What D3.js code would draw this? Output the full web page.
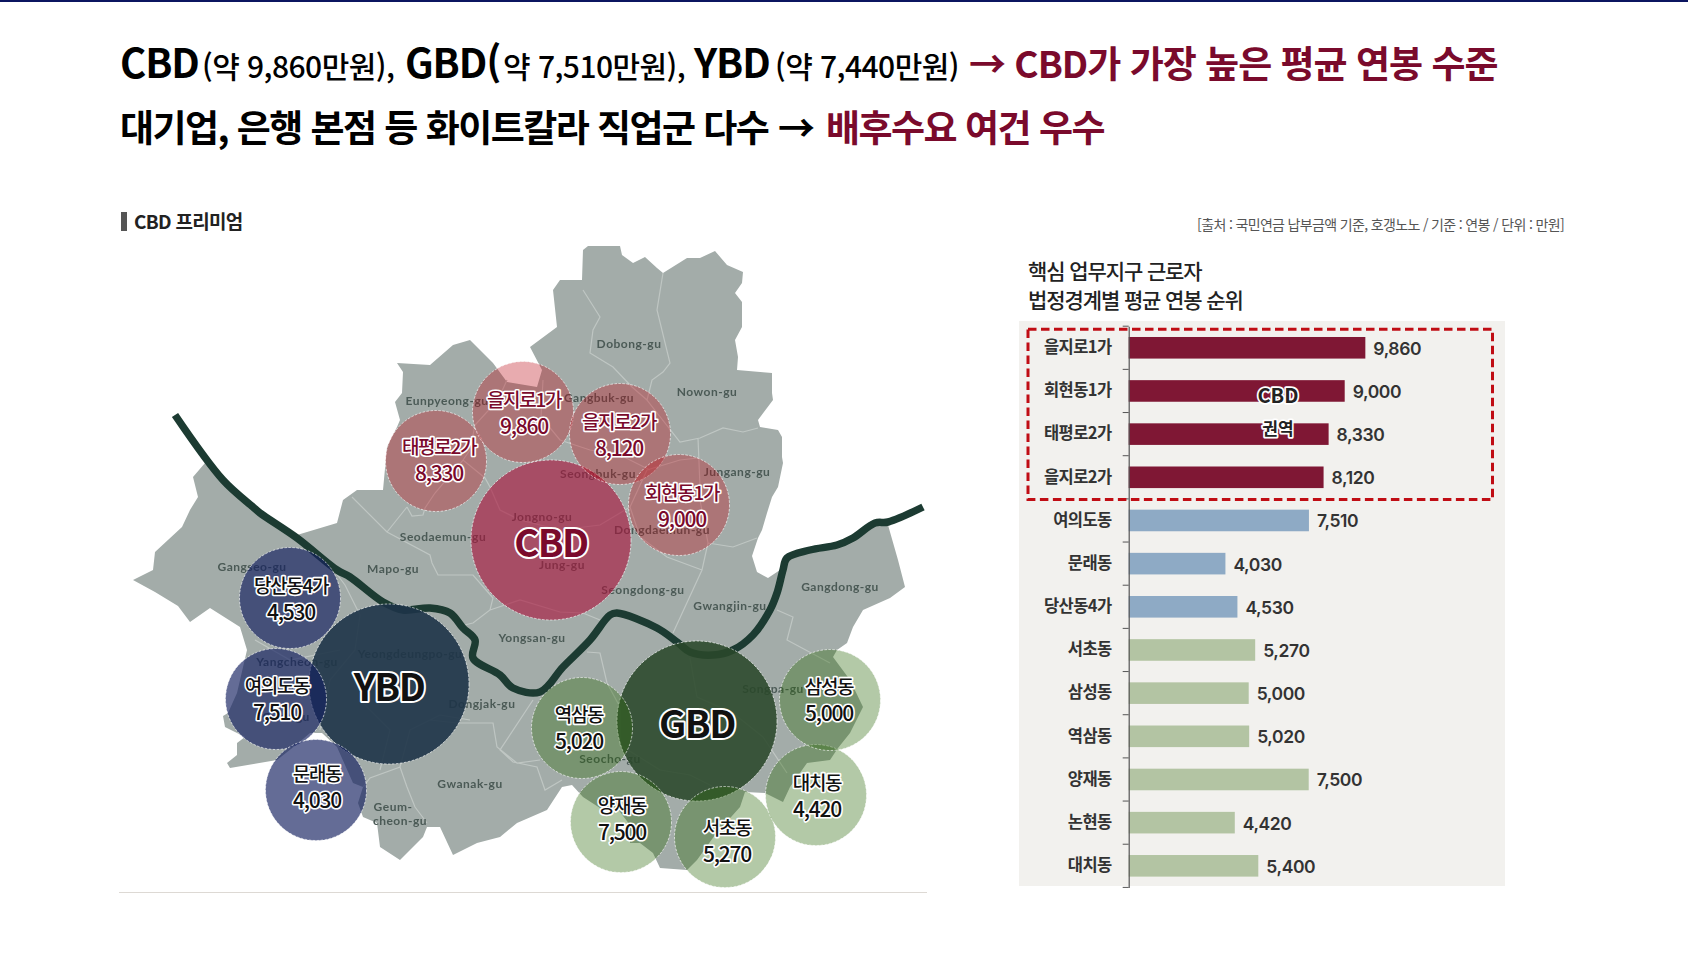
<!DOCTYPE html>
<html lang="ko">
<head>
<meta charset="utf-8">
<title>CBD 프리미엄</title>
<script src="https://cdn.jsdelivr.net/npm/d3@7"></script>
<style>
  html, body { margin: 0; padding: 0; background: #fff; }
  svg { display: block; }
  text { font-family: "Noto Sans CJK KR", "Noto Sans", sans-serif; }
</style>
</head>
<body>
<svg id="page" width="1688" height="977"></svg>
<script>
// ---------- Bar chart data ----------
const categories = ["을지로1가", "회현동1가", "태평로2가", "을지로2가", "여의도동", "문래동", "당산동4가", "서초동", "삼성동", "역삼동", "양재동", "논현동", "대치동"];
const salaries = [9860, 9000, 8330, 8120, 7510, 4030, 4530, 5270, 5000, 5020, 7500, 4420, 5400];
const barGroups = ["cbd", "cbd", "cbd", "cbd", "ybd", "ybd", "ybd", "gbd", "gbd", "gbd", "gbd", "gbd", "gbd"];

// ---------- Bubble data (map grid positions) ----------
const bubbleNames = ["태평로2가", "을지로1가", "을지로2가", "회현동1가", "당산동4가", "여의도동", "문래동", "역삼동", "양재동", "서초동", "대치동", "삼성동"];
const bubbleValues = [8330, 9860, 8120, 9000, 4530, 7510, 4030, 5020, 7500, 5270, 4420, 5000];
const bubbleDistricts = ["cbd", "cbd", "cbd", "cbd", "ybd", "ybd", "ybd", "gbd", "gbd", "gbd", "gbd", "gbd"];
const bubbleSites = [[436, 461], [523, 412], [620, 434], [679, 505], [290, 598], [276, 699], [316, 790], [582, 728], [621, 822], [725, 837], [816, 795], [830, 700]];
const bubbleTextSites = [[439, 461], [524, 414], [619, 436], [682, 507], [291, 600], [277, 700], [317, 788], [579, 729], [622, 820], [727, 842], [817, 797], [829, 701]];
const hubNames = ["CBD", "YBD", "GBD"];
const hubSites = [[551, 540], [389, 684], [697, 721]];

// ---------- Seoul base map, in map grid units ----------
const seoulOutline = [[583,250],[588,246],[620,246],[622,255],[633,263],[645,257],[657,268],[663,273],[687,258],[700,258],[715,251],[727,265],[743,272],[742,283],[735,293],[742,302],[742,327],[735,340],[738,357],[737,370],[772,373],[772,393],[773,400],[758,420],[760,427],[778,430],[782,437],[782,457],[783,463],[778,487],[772,497],[767,513],[762,530],[758,538],[752,556],[757,572],[768,578],[780,570],[787,558],[810,550],[837,545],[853,538],[875,526],[888,525],[898,560],[905,587],[890,598],[863,610],[853,627],[847,643],[837,650],[833,657],[850,680],[863,707],[850,733],[838,748],[830,760],[807,763],[790,787],[783,802],[765,793],[745,792],[740,807],[715,835],[697,860],[687,870],[660,868],[653,853],[640,843],[630,843],[630,825],[617,808],[600,808],[583,797],[572,785],[562,787],[547,810],[517,823],[500,837],[477,843],[453,855],[440,827],[427,827],[423,837],[400,860],[380,847],[377,823],[363,817],[358,803],[363,787],[353,783],[337,747],[322,733],[310,733],[296,745],[277,760],[230,768],[227,763],[237,755],[237,743],[245,737],[225,727],[223,716],[228,713],[237,693],[247,650],[240,627],[210,608],[190,622],[178,606],[155,592],[133,580],[153,570],[155,552],[182,527],[190,510],[198,497],[193,477],[205,463],[223,480],[253,507],[260,513],[297,535],[337,523],[343,500],[357,490],[383,490],[387,447],[397,427],[400,420],[395,402],[402,393],[403,372],[397,363],[430,365],[453,345],[470,340],[493,363],[507,382],[537,387],[542,370],[530,347],[557,327],[553,290],[560,280],[582,280],[583,250]];

const districtBorders = [
  [[663,273],[657,310],[670,363],[663,372],[652,380],[647,400],[680,442],[700,438],[723,428],[743,432],[758,428]],
  [[583,290],[600,317],[593,330],[590,353],[613,367],[632,387],[647,400]],
  [[698,438],[700,487],[700,500],[708,543],[702,570],[673,633]],
  [[708,543],[733,547],[757,538]],
  [[702,570],[667,557],[640,537],[630,507],[647,470],[680,460],[698,458]],
  [[777,610],[793,617],[787,640],[830,663]],
  [[690,658],[697,697],[733,713],[763,737],[787,773]],
  [[587,652],[600,653],[607,683],[620,707],[620,745],[660,770],[690,775],[720,790]],
  [[533,700],[500,750],[513,762],[537,767],[545,790],[562,780]],
  [[457,723],[493,723],[497,747],[517,763],[540,760]],
  [[400,767],[407,787],[415,807],[427,823]],
  [[457,723],[430,720],[410,730],[400,767],[370,778],[363,787]],
  [[352,497],[387,532],[430,555],[432,563],[438,575],[473,575],[493,598],[490,610],[473,623],[460,626]],
  [[407,507],[387,532]],
  [[407,507],[412,516],[423,515],[425,508],[435,493],[463,460],[485,478],[490,487]],
  [[507,380],[498,400],[475,425],[470,450],[463,460]],
  [[543,380],[541,417],[560,440],[590,450],[620,455],[650,470]],
  [[490,487],[500,510],[520,520],[560,530],[600,525],[630,507]],
  [[490,610],[520,600],[560,612],[583,613],[600,620]],
  [[330,565],[345,585],[360,615],[355,650],[330,680],[320,730]],
  [[255,640],[290,660],[340,650]],
  [[360,700],[390,730],[380,770]],
  [[410,730],[440,715],[470,720]]
];

const riverCourse = [[175,415],[223,480],[253,507],[260,513],[297,538],[337,570],[350,577],[383,602],[403,610],[430,608],[450,613],[463,628],[475,640],[473,658],[500,675],[513,688],[540,692],[563,667],[590,640],[610,615],[617,613],[657,628],[677,642],[690,652],[713,655],[733,650],[753,635],[770,610],[777,593],[783,570],[787,558],[810,550],[837,545],[853,538],[875,523],[888,522],[923,507]];

const guNames = ["Eunpyeong-gu", "Dobong-gu", "Nowon-gu", "Gangbuk-gu", "Jungang-gu", "Seongbuk-gu", "Jongno-gu", "Dongdaemun-gu", "Jung-gu", "Seodaemun-gu", "Mapo-gu", "Gangseo-gu", "Yangcheon-gu", "Yeongdeungpo-gu", "Dongjak-gu", "Yongsan-gu", "Seongdong-gu", "Gwangjin-gu", "Gangdong-gu", "Songpa-gu", "Seocho-gu", "Gwanak-gu", "Geum-", "cheon-gu", "Guro-gu"];
const guSites = [[447,401],[629,344],[707,392],[599,398],[737,472],[598,474],[542,517],[662,530],[562,565],[443,537],[393,569],[252,567],[297,662],[410,654],[482,704],[532,638],[643,590],[730,606],[840,587],[773,689],[610,759],[470,784],[393,807],[400,821],[286,717]];

// ---------- Palettes ----------
const barColor = d3.scaleOrdinal(["cbd", "ybd", "gbd"], ["#7f1734", "#8eaac5", "#b3c4a3"]);
const bubbleFill = d3.scaleOrdinal(["cbd", "ybd", "gbd"], ["rgba(190,15,25,0.35)", "rgba(20,32,95,0.66)", "rgba(45,105,10,0.36)"]);
const hubFill = d3.scaleOrdinal(["CBD", "YBD", "GBD"], ["rgba(170,20,60,0.62)", "rgba(30,52,72,0.9)", "rgba(42,72,42,0.88)"]);
const INK_RED = "#7a0a2c";

const svg = d3.select("#page");

// Top rule of the page
svg.append("rect").attr("width", 1688).attr("height", 2).attr("fill", "#0b1560");

// ---------- Headline ----------
function headline(y, runs) {
  const t = svg.append("text").attr("x", 120).attr("y", y).attr("xml:space", "preserve");
  runs.forEach(r => t.append("tspan").attr("x", r.x).attr("font-size", r.size).attr("font-weight", r.weight)
    .attr("letter-spacing", r.track).attr("fill", r.color).text(r.text));
}
headline(78, [
  { x: 120, size: 40, weight: 700, track: -1.1, color: "#000", text: "CBD" },
  { x: 202, size: 30, weight: 500, track: -0.55, color: "#000", text: "(약 9,860만원)," },
  { x: 405, size: 40, weight: 700, track: -1.1, color: "#000", text: "GBD(" },
  { x: 503, size: 30, weight: 500, track: -0.55, color: "#000", text: "약 7,510만원)," },
  { x: 694, size: 40, weight: 700, track: -1.1, color: "#000", text: "YBD" },
  { x: 775, size: 30, weight: 500, track: -0.55, color: "#000", text: "(약 7,440만원)" },
  { x: 969, size: 37, weight: 700, track: -1.0, color: INK_RED, text: "→ CBD가 가장 높은 평균 연봉 수준" }
]);
headline(142, [
  { x: 120, size: 37, weight: 700, track: -1.55, color: "#000", text: "대기업, 은행 본점 등 화이트칼라 직업군 다수" },
  { x: 778, size: 37, weight: 700, track: 0, color: "#000", text: "→" },
  { x: 826, size: 37, weight: 700, track: -1.5, color: INK_RED, text: "배후수요 여건 우수" }
]);

// Section heading and source note
svg.append("rect").attr("x", 121).attr("y", 212).attr("width", 6).attr("height", 19).attr("fill", "#555");
svg.append("text").attr("x", 134).attr("y", 229).attr("font-size", 19).attr("font-weight", 700)
  .attr("letter-spacing", -0.7).attr("fill", "#222").text("CBD 프리미엄");
svg.append("text").attr("x", 1564).attr("y", 230).attr("text-anchor", "end").attr("font-size", 14)
  .attr("letter-spacing", -0.65).attr("fill", "#555").text("[출처 : 국민연금 납부금액 기준, 호갱노노 / 기준 : 연봉 / 단위 : 만원]");

// ---------- Map ----------
const projection = d3.geoIdentity();
const geoPath = d3.geoPath(projection);
const riverLine = d3.line().curve(d3.curveCatmullRom.alpha(0.5));

const defs = svg.append("defs");
defs.append("filter").attr("id", "soft").attr("x", "-5%").attr("y", "-5%").attr("width", "110%").attr("height", "110%")
  .append("feGaussianBlur").attr("stdDeviation", 0.55);

const mapLayer = svg.append("g").attr("filter", "url(#soft)");
mapLayer.append("path")
  .datum({ type: "Polygon", coordinates: [seoulOutline] })
  .attr("d", geoPath).attr("fill", "#a3aca9");
mapLayer.append("path")
  .datum({ type: "MultiLineString", coordinates: districtBorders })
  .attr("d", geoPath).attr("fill", "none").attr("stroke", "#bfc6c3").attr("stroke-width", 1.2);
mapLayer.append("path")
  .datum(riverCourse.map(projection))
  .attr("d", riverLine).attr("fill", "none").attr("stroke", "#1b3a30").attr("stroke-width", 7.5).attr("stroke-linejoin", "round");
mapLayer.selectAll("text.gu").data(guNames).join("text").attr("class", "gu")
  .attr("x", (d, i) => projection(guSites[i])[0])
  .attr("y", (d, i) => projection(guSites[i])[1])
  .attr("dy", "0.35em").attr("text-anchor", "middle")
  .style("font-family", "Lato, sans-serif").attr("font-size", 12).attr("font-weight", 700)
  .attr("letter-spacing", 0.5).attr("fill", "#4b5a56").text(d => d);

// Rule below the map
svg.append("line").attr("x1", 119).attr("x2", 927).attr("y1", 892.5).attr("y2", 892.5).attr("stroke", "#ddd9d4").attr("stroke-width", 1);

// Bubbles: every district bubble has one size and the hubs share a larger one
const bubbleRadius = 50.5;
const hubRadius = 80;
const edgeStyle = sel => sel.attr("stroke", "rgba(255,255,255,0.7)").attr("stroke-width", 0.9).attr("stroke-dasharray", "2.5 1.5");

svg.append("g").selectAll("circle").data(hubNames).join("circle")
  .attr("cx", (d, i) => projection(hubSites[i])[0]).attr("cy", (d, i) => projection(hubSites[i])[1])
  .attr("r", hubRadius).attr("fill", d => hubFill(d)).call(edgeStyle);

svg.append("g").selectAll("circle").data(bubbleNames).join("circle")
  .attr("cx", (d, i) => projection(bubbleSites[i])[0]).attr("cy", (d, i) => projection(bubbleSites[i])[1])
  .attr("r", bubbleRadius).attr("fill", (d, i) => bubbleFill(bubbleDistricts[i])).call(edgeStyle);

const haloed = sel => sel.attr("text-anchor", "middle").attr("dy", "0.35em")
  .attr("stroke", "#fff").attr("stroke-linejoin", "round").attr("paint-order", "stroke");

const fmt = d3.format(",");
const bubbleLabels = svg.append("g").selectAll("g").data(bubbleNames).join("g")
  .attr("transform", (d, i) => { const p = projection(bubbleTextSites[i]); return `translate(${p[0]},${p[1]})`; });
bubbleLabels.append("text").call(haloed).attr("y", -13.5).attr("font-size", 19).attr("font-weight", 500)
  .attr("letter-spacing", -1.3).attr("stroke-width", 3.2)
  .attr("fill", (d, i) => bubbleDistricts[i] === "cbd" ? INK_RED : "#111").text(d => d);
bubbleLabels.append("text").call(haloed).attr("y", 13).attr("font-size", 21).attr("font-weight", 500)
  .attr("letter-spacing", -1.2).attr("stroke-width", 3.2)
  .attr("fill", (d, i) => bubbleDistricts[i] === "cbd" ? INK_RED : "#111").text((d, i) => fmt(bubbleValues[i]));

svg.append("g").selectAll("text").data(hubNames).join("text").call(haloed)
  .attr("x", (d, i) => projection(hubSites[i])[0])
  .attr("y", (d, i) => projection(hubSites[i])[1] + 4)
  .attr("font-size", 38).attr("font-weight", 700).attr("letter-spacing", -1.5).attr("stroke-width", 4)
  .attr("fill", d => d === "CBD" ? INK_RED : "#111").text(d => d);

// ---------- Ranking bars ----------
svg.append("text").attr("x", 1028).attr("y", 279).attr("font-size", 21).attr("font-weight", 500)
  .attr("letter-spacing", -1.1).attr("fill", "#222").text("핵심 업무지구 근로자");
svg.append("text").attr("x", 1028).attr("y", 308).attr("font-size", 21).attr("font-weight", 500)
  .attr("letter-spacing", -1.1).attr("fill", "#222").text("법정경계별 평균 연봉 순위");

svg.append("rect").attr("x", 1019).attr("y", 321).attr("width", 486).attr("height", 565).attr("fill", "#f2f1ee");

const x = d3.scaleLinear().domain([0, 10000]).range([1128.7, 1368.7]);
const y = d3.scaleBand().domain(categories).range([326.2, 887.4]).paddingInner(0.5).paddingOuter(0.25);

const chart = svg.append("g");
chart.selectAll("rect.bar").data(categories).join("rect").attr("class", "bar")
  .attr("x", x(0)).attr("y", d => y(d))
  .attr("width", (d, i) => x(salaries[i]) - x(0)).attr("height", y.bandwidth())
  .attr("fill", (d, i) => barColor(barGroups[i]));

const yAxis = d3.axisLeft(y).tickSize(0).tickPadding(17);
const axisG = chart.append("g").attr("transform", `translate(${x(0)},0)`).call(yAxis);
axisG.select(".domain").attr("stroke", "#555").attr("stroke-width", 1.2);
axisG.selectAll("text").style("font-family", '"Noto Sans CJK KR", sans-serif').attr("font-size", 16.5)
  .attr("font-weight", 700).attr("letter-spacing", -0.55).attr("fill", "#333");

// Separator ticks sit on the edges of each band
const edgeTicks = d3.range(categories.length + 1).map(i => y.range()[0] + i * y.step());
axisG.selectAll("line.edge").data(edgeTicks).join("line").attr("class", "edge")
  .attr("x1", -6).attr("x2", 0).attr("y1", d => d).attr("y2", d => d)
  .attr("stroke", "#555").attr("stroke-width", 1);

chart.selectAll("text.value").data(categories).join("text").attr("class", "value")
  .attr("x", (d, i) => x(salaries[i]) + 8).attr("y", d => y(d) + y.bandwidth() / 2 + 0.7).attr("dy", "0.36em")
  .style("font-family", "Inter, sans-serif")
  .attr("font-size", 17.5).attr("font-weight", 600).attr("letter-spacing", -0.4).attr("fill", "#333")
  .text((d, i) => fmt(salaries[i]));

// Dashed frame round the CBD rows
const cbdRows = categories.filter((d, i) => barGroups[i] === "cbd");
const frameTop = y.range()[0] + 3;
const frameBottom = y(cbdRows[cbdRows.length - 1]) + y.bandwidth() + 11.5;
svg.append("rect").attr("x", 1028).attr("y", frameTop).attr("width", 464.5).attr("height", frameBottom - frameTop)
  .attr("fill", "none").attr("stroke", "#c00d14").attr("stroke-width", 3).attr("stroke-dasharray", "8.5 4.5");

svg.append("text").call(haloed).attr("x", 1278).attr("y", 396).attr("font-size", 20).attr("font-weight", 700)
  .attr("stroke-width", 3.5).attr("fill", "#222").text("CBD");
svg.append("text").call(haloed).attr("x", 1278).attr("y", 429).attr("font-size", 17).attr("font-weight", 700)
  .attr("stroke-width", 3.5).attr("fill", "#222").text("권역");
</script>
</body>
</html>
